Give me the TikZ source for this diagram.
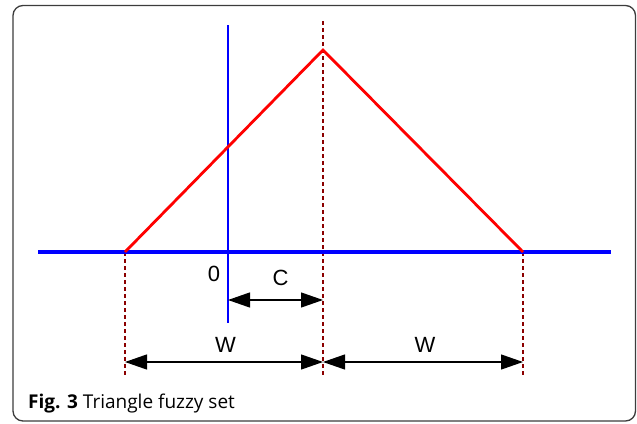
\documentclass[tikz,border=0pt]{standalone}
\usepackage{fontspec}
\setmainfont{Liberation Sans}
\newfontfamily\capfont{Open Sans}
\usetikzlibrary{arrows.meta}
\definecolor{dotred}{RGB}{139,0,0}
\definecolor{framegray}{RGB}{60,60,60}
\begin{document}
\begin{tikzpicture}[x=1pt,y=-1pt,
  axisline/.style={draw={rgb,255:red,0;green,0;blue,255},line width=3.5pt},
  vaxis/.style={draw={rgb,255:red,0;green,0;blue,255},line width=1.8pt},
  memb/.style={draw={rgb,255:red,255;green,0;blue,0},line width=2.8pt,line join=miter},
  guide/.style={draw=dotred,line width=1.6pt,dash pattern=on 4pt off 3pt},
  dimarrow/.style={draw=black,line width=1.2pt,{Triangle[length=22pt,width=15pt]}-{Triangle[length=22pt,width=15pt]}},
  lbl/.style={font=\fontsize{22}{25}\selectfont,inner sep=0pt}]
\useasboundingbox (0,0) rectangle (637,423);
\draw[framegray,line width=1.3pt,rounded corners=10pt] (13,5.5) rectangle (635.5,421);
% coordinates
\coordinate (axL) at (38,252);
\coordinate (axR) at (611,252);
\coordinate (vT) at (228,25);
\coordinate (vB) at (228,323);
\coordinate (L) at (125,252);
\coordinate (A) at (323,50);
\coordinate (R) at (523,252);
\coordinate (gLb) at (125,376);
\coordinate (gCt) at (323,21);
\coordinate (gCb) at (323,376);
\coordinate (gRb) at (523,376);
\coordinate (c1) at (228,300);
\coordinate (c2) at (323,300);
\coordinate (w1) at (125,362);
\coordinate (w2) at (323,362);
\coordinate (w3) at (523,362);
% guides
\draw[guide] (L) -- (gLb);
\draw[guide] (gCt) -- (gCb);
\draw[guide] (R) -- (gRb);
% axes
\draw[axisline] (axL) -- (axR);
\draw[vaxis] (vT) -- (vB);
% membership function
\draw[memb] (L) -- (A) -- (R);
% dimension arrows
\draw[dimarrow] (c1) -- (c2);
\draw[dimarrow] (w1) -- (w2);
\draw[dimarrow] (w2) -- (w3);
% labels
\node[lbl] (zero) at (214,274) {0};
\node[lbl] (cl) at (280.5,277.5) {C};
\node[lbl] (wl1) at (225.5,345) {W};
\node[lbl] (wl2) at (425,345) {W};
\node[anchor=base west,inner sep=0pt,font=\capfont\fontsize{19}{22}\selectfont] (cap) at (28,408) {\textbf{Fig. 3} Triangle fuzzy set};
\end{tikzpicture}
\end{document}
